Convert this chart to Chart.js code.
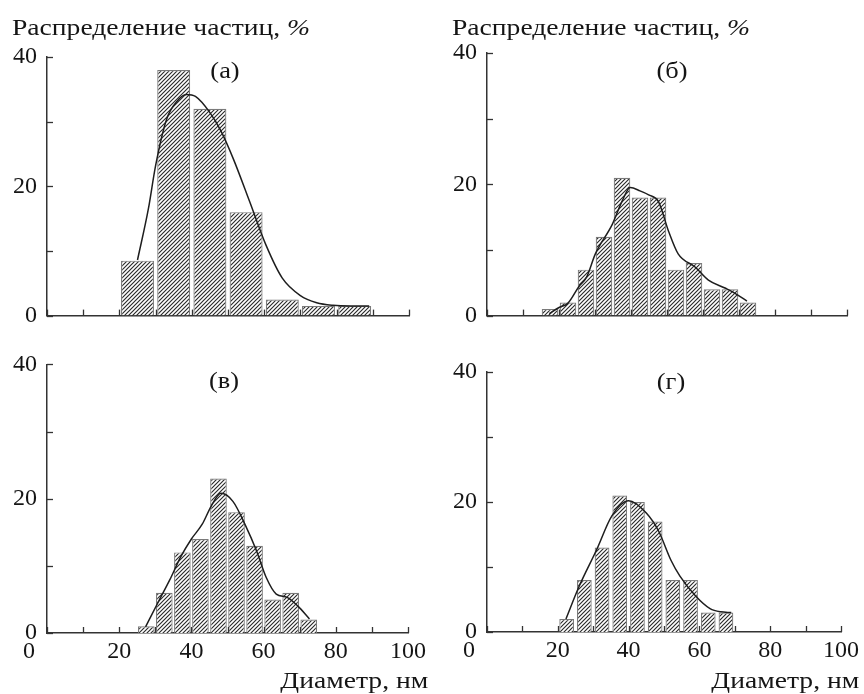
<!DOCTYPE html>
<html>
<head>
<meta charset="utf-8">
<script src="https://cdn.jsdelivr.net/npm/chart.js@4.4.1/dist/chart.umd.min.js"></script>
<style>
  html, body { margin:0; padding:0; background:#fff; }
  #wrap { position:relative; width:864px; height:694px; overflow:hidden; background:#fff; }
  canvas { position:absolute; }
  .t { position:absolute; font-family:"Liberation Serif", "Times New Roman", serif; color:#151515; line-height:1; white-space:nowrap; }
  .ytitle { font-size:23px; transform:scaleX(1.2); transform-origin:0 0; }
  .xtitle { font-size:23px; text-align:right; transform:scaleX(1.2); transform-origin:100% 0; }
  .plab { font-size:24px; text-align:center; width:80px; transform:scaleX(1.1); }
</style>
</head>
<body>
<div id="wrap">
  <canvas id="cA" width="432" height="340" style="left:0;top:0"></canvas>
  <canvas id="cB" width="432" height="340" style="left:432px;top:0"></canvas>
  <canvas id="cC" width="432" height="354" style="left:0;top:340px"></canvas>
  <canvas id="cD" width="432" height="354" style="left:432px;top:340px"></canvas>

  <div class="t ytitle" style="left:12px;top:16px">Распределение частиц, <i>%</i></div>
  <div class="t ytitle" style="left:452px;top:16px">Распределение частиц, <i>%</i></div>
  <div class="t xtitle" style="right:436px;top:668.5px">Диаметр, нм</div>
  <div class="t xtitle" style="right:5px;top:668.5px">Диаметр, нм</div>
  <div class="t plab" style="left:185px;top:58px">(а)</div>
  <div class="t plab" style="left:632px;top:58px">(б)</div>
  <div class="t plab" style="left:184px;top:368px">(в)</div>
  <div class="t plab" style="left:631px;top:369px">(г)</div>
</div>
<script>
// ---------- data ----------
// x tick labels (nm) and y tick labels (%)
const xTickLabels = [0, 20, 40, 60, 80, 100];
const yTickLabels = [0, 20, 40];

// Panel (а): bins 10 nm wide
const binsA = [25, 35, 45, 55, 65, 75, 85];
const valsA = [8.5, 38, 32, 16, 2.5, 1.5, 1.5];
const curveAx = [25, 28, 30, 33, 36, 38.5, 41, 45, 48, 51.5, 56, 60.5, 65, 70, 74.5, 79, 84, 89];
const curveAy = [8.6, 16.5, 23.2, 30.3, 33.2, 34.2, 33.9, 31.4, 28.6, 24.2, 17.6, 10.9, 5.8, 3.1, 2.0, 1.6, 1.5, 1.5];

// Panel (б): bins 5 nm wide
const binsB = [17.5, 22.5, 27.5, 32.5, 37.5, 42.5, 47.5, 52.5, 57.5, 62.5, 67.5, 72.5];
const valsB = [1, 2, 7, 12, 21, 18, 18, 7, 8, 4, 4, 2];
const curveBx = [17.3, 19.9, 22.5, 25.5, 27.7, 30.1, 34.8, 37.5, 39.8, 42.5, 44.9, 47.6, 50.4, 53.1, 57.8, 61.5, 66.1, 68.9, 72.2];
const curveBy = [0.3, 1.2, 1.9, 4.4, 5.9, 9.4, 13.9, 17.4, 19.5, 19.0, 18.4, 17.4, 12.9, 9.4, 7.4, 5.4, 4.2, 3.4, 2.2];

// Panel (в)
const binsC = [27.5, 32.5, 37.5, 42.5, 47.5, 52.5, 57.5, 62.5, 67.5, 72.5];
const valsC = [1, 6, 12, 14, 23, 18, 13, 5, 6, 2];
const curveCx = [27.3, 31, 34, 37, 40, 43, 45.5, 48.2, 51.5, 55, 58, 60.7, 63.5, 66.5, 69.5, 72.7];
const curveCy = [0.9, 4.8, 7.9, 11.3, 14.0, 16.2, 18.9, 20.8, 19.6, 16, 12.3, 8.3, 5.8, 5.3, 4, 2.1];

// Panel (г)
const binsD = [22.5, 27.5, 32.5, 37.5, 42.5, 47.5, 52.5, 57.5, 62.5, 67.5];
const valsD = [2, 8, 13, 21, 20, 17, 8, 8, 3, 3];
const curveDx = [22.3, 26, 31, 35.2, 40, 45, 48.5, 52, 54.5, 59, 63, 66, 69];
const curveDy = [2, 7, 12.7, 17.8, 20.2, 18.3, 15.5, 11, 8.6, 5.5, 3.6, 3.1, 3.0];

// ---------- styling helpers ----------
const FONT = '"Liberation Serif", "Times New Roman", serif';

function hatchPattern(ctx) {
  const n = 4;
  const c = document.createElement('canvas');
  c.width = n; c.height = n;
  const g = c.getContext('2d');
  g.fillStyle = '#ffffff'; g.fillRect(0, 0, n, n);
  g.strokeStyle = '#2a2a2a';
  g.lineWidth = 1.15;
  g.beginPath();
  g.moveTo(-1, n + 1); g.lineTo(n + 1, -1);
  g.moveTo(-1, 1); g.lineTo(1, -1);
  g.moveTo(n - 1, n + 1); g.lineTo(n + 1, n - 1);
  g.stroke();
  return ctx.createPattern(c, 'repeat');
}

const inwardTicks = {
  id: 'inwardTicks',
  afterDatasetsDraw(chart) {
    const { ctx, chartArea: a, scales: { x, y } } = chart;
    ctx.save();
    ctx.strokeStyle = '#333';
    ctx.lineWidth = 1.3;
    x.ticks.forEach(t => {
      const p = Math.round(x.getPixelForValue(t.value)) + 0.5;
      ctx.beginPath(); ctx.moveTo(p, a.bottom); ctx.lineTo(p, a.bottom - 6); ctx.stroke();
    });
    y.ticks.forEach(t => {
      const p = Math.round(y.getPixelForValue(t.value)) + 0.5;
      ctx.beginPath(); ctx.moveTo(a.left, p); ctx.lineTo(a.left + 6, p); ctx.stroke();
    });
    ctx.restore();
  }
};

function makeChart(id, bins, vals, cx, cy, geo) {
  const canvas = document.getElementById(id);
  const ctx = canvas.getContext('2d');
  const W = canvas.width, H = canvas.height;
  const XH = geo.showX ? 40 : 10;
  return new Chart(ctx, {
    type: 'bar',
    data: {
      datasets: [
        {
          type: 'line',
          data: cx.map((v, i) => ({ x: v, y: cy[i] })),
          borderColor: '#1e1e1e',
          borderWidth: 1.5,
          pointRadius: 0,
          cubicInterpolationMode: 'monotone',
          fill: false,
          order: 0
        },
        {
          type: 'bar',
          data: bins.map((v, i) => ({ x: v, y: vals[i] })),
          backgroundColor: hatchPattern(ctx),
          borderColor: '#7a7a7a',
          borderWidth: 1.2,
          borderSkipped: 'bottom',
          categoryPercentage: 1,
          barPercentage: geo.barPct,
          order: 1
        }
      ]
    },
    options: {
      responsive: false,
      animation: false,
      devicePixelRatio: 1,
      layout: { padding: { left: 0, right: W - geo.right, top: geo.top, bottom: H - geo.bottom - XH } },
      plugins: { legend: { display: false }, tooltip: { enabled: false }, title: { display: false } },
      scales: {
        x: {
          type: 'linear', min: 0, max: 100, offset: false,
          grid: { display: false, drawTicks: false },
          border: { display: true, color: '#333', width: 1.5 },
          ticks: {
            display: geo.showX, stepSize: 10, autoSkip: false, maxRotation: 0, minRotation: 0,
            padding: 4, color: '#151515', font: { family: FONT, size: 24 },
            callback: v => xTickLabels.includes(v) ? (v === 0 ? '0      ' : String(v)) : ''
          },
          afterFit(s) { s.height = XH; }
        },
        y: {
          type: 'linear', min: 0, max: 40,
          grid: { display: false, drawTicks: false },
          border: { display: true, color: '#333', width: 1.5 },
          ticks: {
            stepSize: 10, autoSkip: false, padding: 10, color: '#151515',
            font: { family: FONT, size: 24 },
            callback: v => yTickLabels.includes(v) ? String(v) : ''
          },
          afterFit(s) { s.width = geo.left; }
        }
      }
    },
    plugins: [inwardTicks]
  });
}

makeChart('cA', binsA, valsA, curveAx, curveAy, { left: 47, right: 409, top: 57, bottom: 318, showX: false, barPct: 0.91 });
makeChart('cB', binsB, valsB, curveBx, curveBy, { left: 55, right: 415, top: 53, bottom: 319, showX: false, barPct: 0.92 });
makeChart('cC', binsC, valsC, curveCx, curveCy, { left: 47, right: 408, top: 22, bottom: 293, showX: true, barPct: 0.92 });
makeChart('cD', binsD, valsD, curveDx, curveDy, { left: 55, right: 409, top: 32, bottom: 292, showX: true, barPct: 0.83 });
</script>
</body>
</html>
